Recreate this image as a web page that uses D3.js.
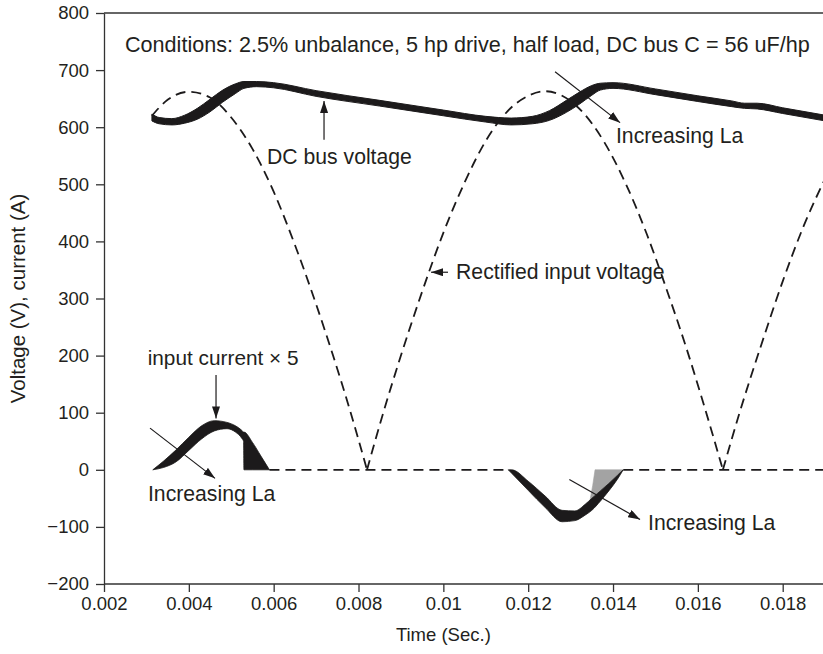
<!DOCTYPE html>
<html>
<head>
<meta charset="utf-8">
<script src="https://cdn.jsdelivr.net/npm/d3@7"></script>
<style>
  body { margin: 0; background: #fff; }
  svg text { font-family: "Liberation Sans", Arial, Helvetica, sans-serif; fill: #231f20; }
</style>
</head>
<body>
<svg id="viz" width="823" height="654"></svg>
<script>
// ---- data (time in s, voltage in V, current in A x5) ----
var xTicks = [0.002, 0.004, 0.006, 0.008, 0.01, 0.012, 0.014, 0.016, 0.018];
var xTickLabels = ["0.002", "0.004", "0.006", "0.008", "0.01", "0.012", "0.014", "0.016", "0.018"];
var yTicks = [-200, -100, 0, 100, 200, 300, 400, 500, 600, 700, 800];
var yTickLabels = ["\u2212200", "\u2212100", "0", "100", "200", "300", "400", "500", "600", "700", "800"];

// DC bus voltage, drawn as a band (spread over La values)
var busT  = [0.00313, 0.0033, 0.0036, 0.0039, 0.0042, 0.0045, 0.0048, 0.0051, 0.0053, 0.0056, 0.0060, 0.0070, 0.0085, 0.0100, 0.0110,
             0.0116, 0.0121, 0.0125, 0.0129, 0.0132, 0.0135, 0.0137, 0.0140, 0.0150, 0.0160, 0.0168, 0.0171, 0.0174, 0.0180, 0.0190];
var busHi = [623, 617, 615, 621, 633, 649, 665, 676, 680, 680, 678, 664, 647, 630, 619,
             616, 619, 629, 647, 661, 673, 677, 678, 667, 655, 646, 642, 642, 634, 621];
var busLo = [611, 606, 604, 607, 614, 627, 644, 659, 668, 671, 669, 654, 637, 620, 609,
             604, 606, 612, 626, 640, 656, 665, 668, 657, 645, 636, 633, 632, 624, 611];

// rectified input voltage (dashed), arches split where it touches zero
var rectT = [0.00313, 0.0035, 0.0040, 0.0045, 0.0050, 0.0055, 0.0060, 0.0065, 0.0070, 0.0074, 0.0078, 0.0082,
             0.0086, 0.0090, 0.0095, 0.0100, 0.0105, 0.0110, 0.0115, 0.0120, 0.0124, 0.0128, 0.0133, 0.0138, 0.0143,
             0.0148, 0.0153, 0.0157, 0.0161, 0.01659, 0.0170, 0.0175, 0.0180, 0.0185, 0.0190];
var rectV = [620, 648, 662, 652, 617, 562, 487, 394, 290, 200, 104, 0,
             104, 200, 312, 415, 503, 576, 627, 655, 663, 655, 625, 573, 501,
             412, 308, 220, 124, 0, 104, 220, 330, 428, 510];

// input current x 5, positive pulse (outer / inner edge)
var posT  = [0.00315, 0.0034, 0.0037, 0.0040, 0.0043, 0.0046, 0.0049, 0.0051, 0.00525, 0.00529, 0.0053, 0.0055, 0.0057, 0.0059];
var posHi = [0, 15, 35, 57, 77, 86, 83, 77, 69, 66, 66, 48, 24, 0];
var posLo = [0, 4, 14, 34, 54, 68, 72, 66, 55, 50, 0, 0, 0, 0];

// negative pulse (inner / outer edge)
var negT  = [0.01153, 0.01161, 0.0120, 0.0124, 0.0128, 0.0131, 0.01335, 0.0135, 0.0137, 0.0139, 0.0141, 0.01424];
var negHi = [0, 0, -20, -46, -71, -72, -60, -50, -37, -24, -10, 0];
var negLo = [0, -6, -36, -66, -91, -89, -79, -71, -55, -37, -17, 0];

// grey wedge at the end of the negative pulse
var greyT = [0.013576, 0.014243, 0.01397, 0.013694, 0.013458, 0.013522];
var greyV = [0, 0, -19, -37, -53, -27];

// zero current stretches (dashed)
var zeroStart = [0.0059, 0.01424];
var zeroEnd   = [0.01153, 0.0190];

// ---- layout ----
var svg = d3.select("#viz");
var pLeft = 104, pTop = 13, pBottom = 584, pRight = 823;

var x = d3.scaleLinear().domain([0.002, 0.018]).range([pLeft, 782.7]);
var y = d3.scaleLinear().domain([-200, 800]).range([pBottom, pTop]);

var ink = "#1c1a1b";

svg.append("clipPath").attr("id", "plotclip")
    .append("rect").attr("x", pLeft).attr("y", pTop - 2).attr("width", pRight - pLeft).attr("height", pBottom - pTop + 4);

// axes
var yAxis = d3.axisLeft(y).tickValues(yTicks).tickSize(8).tickSizeOuter(0).tickPadding(7)
    .tickFormat(function (d, i) { return yTickLabels[i]; });
var xAxis = d3.axisBottom(x).tickValues(xTicks).tickSize(8).tickSizeOuter(0).tickPadding(5)
    .tickFormat(function (d, i) { return xTickLabels[i]; });

var gy = svg.append("g").attr("transform", "translate(" + pLeft + ",0)").call(yAxis);
var gx = svg.append("g").attr("transform", "translate(0," + pBottom + ")").call(xAxis);
gx.select(".domain").attr("d", "M" + pLeft + ",0H" + pRight);
[gx, gy].forEach(function (g) {
    g.attr("font-family", null).attr("font-size", null);
    g.selectAll("path, line").attr("stroke", "#333").attr("stroke-width", 1.3);
    g.selectAll("text").attr("fill", ink).style("font-size", "18.5px");
});
svg.append("line").attr("x1", pLeft).attr("x2", pRight).attr("y1", pTop).attr("y2", pTop)
    .attr("stroke", "#333").attr("stroke-width", 1.3);

svg.append("text").attr("x", (pLeft + 782.7) / 2).attr("y", 641).attr("text-anchor", "middle")
    .style("font-size", "18.5px").text("Time (Sec.)");
svg.append("text").attr("transform", "translate(25," + ((pTop + pBottom) / 2) + ") rotate(-90)")
    .attr("text-anchor", "middle").style("font-size", "20.5px").text("Voltage (V), current (A)");

var plot = svg.append("g").attr("clip-path", "url(#plotclip)");

// rectified input voltage
var arches = [], cur = [];
rectT.forEach(function (t, i) {
    cur.push([t, rectV[i]]);
    if (rectV[i] === 0 && cur.length > 1) { arches.push(cur); cur = [[t, 0]]; }
});
if (cur.length > 1) arches.push(cur);

var rectLine = d3.line().x(function (d) { return x(d[0]); }).y(function (d) { return y(d[1]); })
    .curve(d3.curveMonotoneX);
plot.selectAll(".rect").data(arches).enter().append("path")
    .attr("class", "rect")
    .attr("d", rectLine)
    .attr("fill", "none").attr("stroke", ink).attr("stroke-width", 1.8)
    .attr("stroke-dasharray", "10,6");

// zero current dashed
plot.selectAll(".zero").data(zeroStart).enter().append("line")
    .attr("class", "zero")
    .attr("x1", function (d) { return x(d); })
    .attr("x2", function (d, i) { return x(zeroEnd[i]); })
    .attr("y1", y(0)).attr("y2", y(0))
    .attr("stroke", ink).attr("stroke-width", 1.8).attr("stroke-dasharray", "10,6");

// bands
function band(ts, hi, lo) {
    return d3.area()
        .x(function (d) { return x(ts[d]); })
        .y0(function (d) { return y(lo[d]); })
        .y1(function (d) { return y(hi[d]); })
        .curve(d3.curveMonotoneX)(d3.range(ts.length));
}
plot.append("path").attr("d", band(busT, busHi, busLo))
    .attr("fill", ink).attr("stroke", ink).attr("stroke-width", 1).attr("stroke-linejoin", "round");
plot.append("path").attr("d", band(posT, posHi, posLo))
    .attr("fill", ink).attr("stroke", ink).attr("stroke-width", 0.8);

var greyPts = greyT.map(function (t, i) { return [x(t), y(greyV[i])]; });
plot.append("path").attr("d", d3.line().curve(d3.curveLinearClosed)(greyPts))
    .attr("fill", "#a3a3a3").attr("stroke", "#a3a3a3").attr("stroke-width", 0.6);
plot.append("path").attr("d", band(negT, negHi, negLo))
    .attr("fill", ink).attr("stroke", ink).attr("stroke-width", 0.8);

// arrows
svg.append("defs").append("marker")
    .attr("id", "head").attr("viewBox", "0 0 12 8").attr("refX", 12).attr("refY", 4)
    .attr("markerWidth", 12).attr("markerHeight", 8).attr("markerUnits", "userSpaceOnUse")
    .attr("orient", "auto")
    .append("path").attr("d", "M0,0L12,4L0,8Z").attr("fill", ink);

var arrows = [
    { t1: 0.007187, v1: 578, t2: 0.007187, v2: 646 },   // DC bus voltage
    { t1: 0.012633, v1: 697, t2: 0.014166, v2: 608 },   // increasing La (top)
    { t1: 0.010110, v1: 346, t2: 0.009710, v2: 346 },   // rectified input voltage
    { t1: 0.004641, v1: 166, t2: 0.004641, v2: 90 },    // input current
    { t1: 0.003085, v1: 73, t2: 0.004617, v2: -15 },    // increasing La (left)
    { t1: 0.01297, v1: -17, t2: 0.014637, v2: -87 }     // increasing La (right)
];
svg.selectAll(".arrow").data(arrows).enter().append("line")
    .attr("class", "arrow")
    .attr("x1", function (d) { return x(d.t1); }).attr("y1", function (d) { return y(d.v1); })
    .attr("x2", function (d) { return x(d.t2); }).attr("y2", function (d) { return y(d.v2); })
    .attr("stroke", ink).attr("stroke-width", 1.2).attr("marker-end", "url(#head)");

var notes = [
    { text: "Conditions: 2.5% unbalance, 5 hp drive, half load, DC bus C = 56 uF/hp", t: 0.002495, v: 732, size: 21.6 },
    { text: "DC bus voltage", t: 0.005843, v: 536, size: 21.2 },
    { text: "Increasing La", t: 0.01407, v: 572, size: 21.2 },
    { text: "Rectified input voltage", t: 0.0103, v: 334, size: 21.2 },
    { text: "input current \u00d7 5", t: 0.00303, v: 184, size: 20.8 },
    { text: "Increasing La", t: 0.003037, v: -55, size: 21.2 },
    { text: "Increasing La", t: 0.014826, v: -105, size: 21.2 }
];
svg.selectAll(".note").data(notes).enter().append("text")
    .attr("class", "note")
    .attr("x", function (d) { return x(d.t); })
    .attr("y", function (d) { return y(d.v); })
    .style("font-size", function (d) { return d.size + "px"; })
    .text(function (d) { return d.text; });
</script>
</body>
</html>
